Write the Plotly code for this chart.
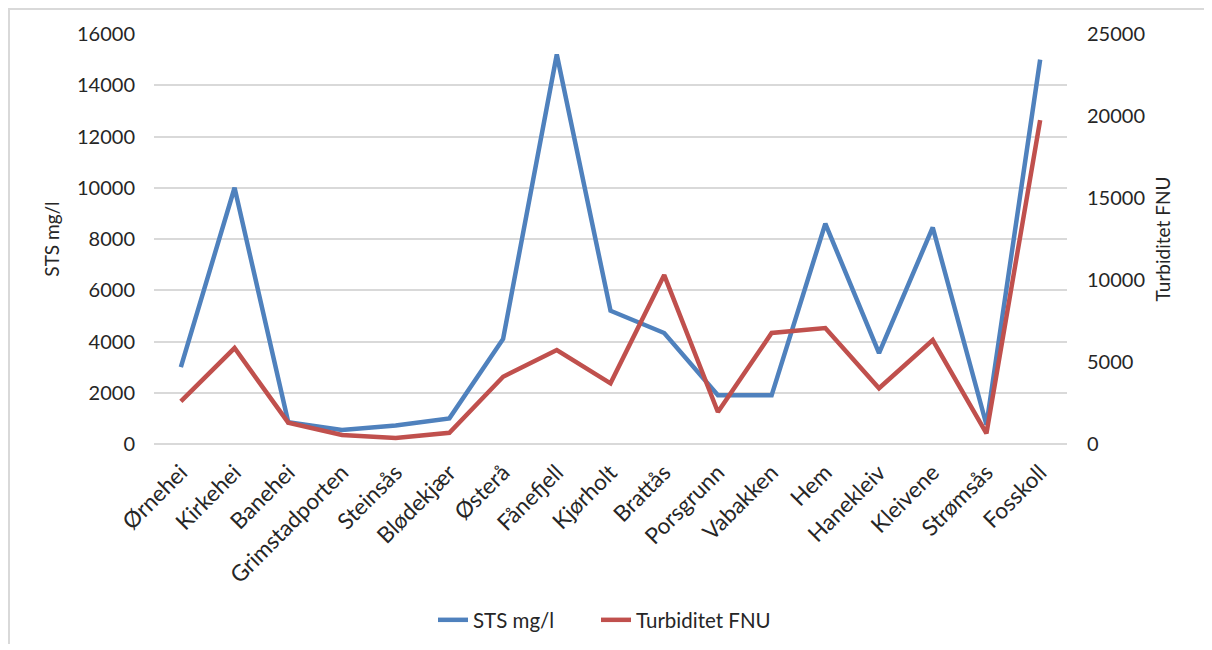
import plotly.graph_objects as go

categories = ["Ørnehei", "Kirkehei", "Banehei", "Grimstadporten", "Steinsås", "Blødekjær",
              "Østerå", "Fånefjell", "Kjørholt", "Brattås", "Porsgrunn", "Vabakken",
              "Hem", "Hanekleiv", "Kleivene", "Strømsås", "Fosskoll"]
sts = [3000, 10000, 850, 550, 720, 1000, 4100, 15200, 5200, 4330, 1900, 1900,
       8600, 3550, 8450, 750, 15000]
turb = [2600, 5850, 1300, 550, 370, 680, 4100, 5730, 3700, 10300, 1950, 6770,
        7070, 3400, 6340, 650, 19750]

FONT = "Lato"
TXT = "#262626"
fig = go.Figure()
fig.add_trace(go.Scatter(x=categories, y=sts, name="STS mg/l", mode="lines",
                         line=dict(color="#4F81BD", width=4.5), legend="legend"))
fig.add_trace(go.Scatter(x=categories, y=turb, name="Turbiditet FNU", mode="lines",
                         line=dict(color="#C0504D", width=4.5), yaxis="y2",
                         legend="legend2"))

OFF = 8  # page body margin
W, H = 1196, 636
# desired screen-space plot area: x 154..1067, y 34..444
L, T = 154 - OFF, 34 - OFF
R = W - (1067 - OFF)
B = H - (444 - OFF)
pw, ph = W - L - R, H - T - B

def px(x):
    return (x - OFF - L) / pw

def py(y):
    return (H - B - (y - OFF)) / ph

frame = dict(color="#d9d9d9", width=2)
leg = dict(orientation="h", xanchor="left", y=py(620), yanchor="middle",
           font=dict(size=20.5, color=TXT), bgcolor="rgba(0,0,0,0)")
fig.update_layout(
    width=W, height=H,
    margin=dict(l=L, r=R, t=T, b=B, autoexpand=False),
    paper_bgcolor="white", plot_bgcolor="white",
    font=dict(family=FONT, size=19, color=TXT),
    showlegend=True,
    legend=dict(leg, x=px(433)),
    legend2=dict(leg, x=px(596)),
    xaxis=dict(type="category", range=[-0.5, 16.5], tickangle=-45, showgrid=False,
               showline=False, ticks="", tickfont=dict(size=22.5), ticklabelstandoff=10,
               automargin=False),
    yaxis=dict(range=[0, 16000], dtick=2000, showgrid=True, gridcolor="#d9d9d9",
               gridwidth=1.5, zeroline=True, zerolinecolor="#d9d9d9", zerolinewidth=1.5,
               showline=False, ticks="", tickformat="d", tickfont=dict(size=20),
               ticklabelstandoff=18, automargin=False,
               title=dict(text="STS mg/l", font=dict(size=19), standoff=12)),
    yaxis2=dict(range=[0, 25000], dtick=5000, overlaying="y", side="right",
                showgrid=False, zeroline=False, showline=False, ticks="", tickformat="d",
                tickfont=dict(size=20), ticklabelstandoff=19, automargin=False,
                title=dict(text="Turbiditet FNU", font=dict(size=19), standoff=12)),
    shapes=[
        dict(type="line", xref="paper", yref="paper",
             x0=px(9), x1=px(9), y0=py(9), y1=py(650), line=frame, layer="below"),
        dict(type="line", xref="paper", yref="paper",
             x0=px(8), x1=px(1212), y0=py(9), y1=py(9), line=frame, layer="below"),
    ],
)

fig.write_html("out.html")
